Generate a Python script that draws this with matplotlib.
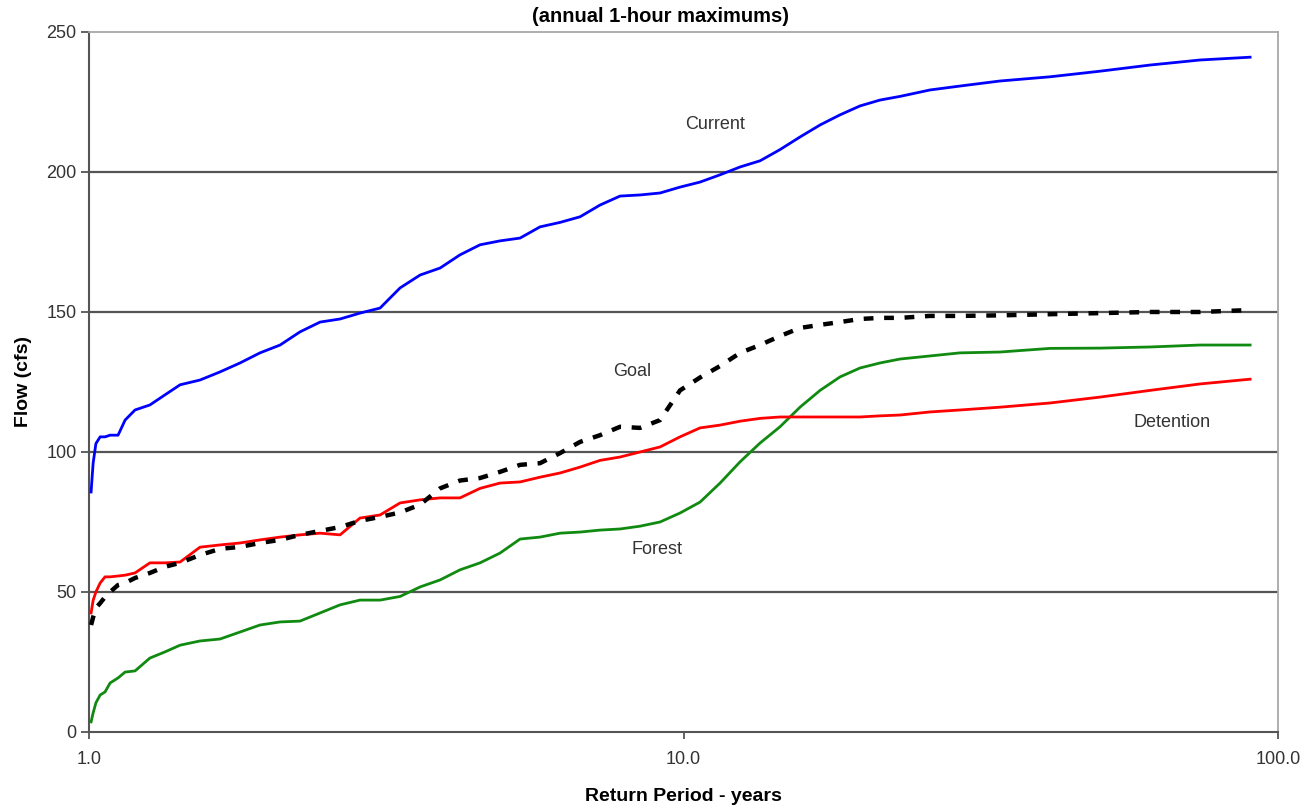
import matplotlib
matplotlib.use("Agg")
import matplotlib.pyplot as plt
from matplotlib.ticker import FixedLocator, NullLocator, FuncFormatter

plt.rcParams['font.family'] = ['Liberation Sans', 'DejaVu Sans']

# return period (years), shared by all four curves
return_period = [1.008, 1.016, 1.027, 1.044, 1.064, 1.085, 1.119, 1.150, 1.195, 1.266,
                 1.342, 1.423, 1.537, 1.661, 1.795, 1.939, 2.096, 2.264, 2.447, 2.644,
                 2.856, 3.087, 3.336, 3.605, 3.895, 4.207, 4.547, 4.913, 5.309, 5.736,
                 6.199, 6.698, 7.237, 7.820, 8.451, 9.131, 9.865, 10.66, 11.52, 12.45,
                 13.45, 14.53, 15.70, 16.97, 18.33, 19.81, 21.41, 23.13, 25.98, 29.18,
                 34.07, 41.35, 50.18, 60.91, 73.93, 89.74]

current = [85.7, 96, 103, 105.4, 105.4, 106, 106, 111.4, 115, 116.8,
           120.4, 124, 125.7, 128.6, 131.8, 135.4, 138.2, 142.9, 146.4, 147.5,
           149.6, 151.4, 158.6, 163.2, 165.7, 170.4, 174, 175.4, 176.4, 180.4,
           182, 184, 188.2, 191.4, 191.8, 192.5, 194.6, 196.4, 199, 201.8,
           204, 208, 212.5, 216.8, 220.4, 223.6, 225.7, 227, 229.3, 230.7,
           232.5, 234, 236, 238.2, 240, 241]

goal = [38.2, 41, 44.3, 46, 48.2, 50, 52.5, 53.2, 55, 56.8,
        59, 60.4, 63.2, 65.4, 66.1, 67.5, 68.6, 70.4, 71.8, 73.2,
        75.4, 76.8, 78.4, 81.2, 87, 89.8, 90.7, 92.9, 95.4, 96,
        99.6, 103.6, 106, 109, 108.6, 111.4, 122, 126.6, 130.7, 135.4,
        138.2, 141.4, 144.3, 145.4, 146.4, 147.5, 147.9, 147.9, 148.6, 148.6,
        148.8, 149.2, 149.6, 150, 150, 150.7]

detention = [42.5, 47, 50, 53.2, 55.4, 55.4, 55.7, 56, 56.8, 60.4,
             60.4, 60.7, 66, 66.8, 67.5, 68.6, 69.6, 70.4, 71, 70.4,
             76.4, 77.5, 81.8, 82.9, 83.6, 83.6, 87, 88.9, 89.3, 91,
             92.5, 94.6, 97, 98.2, 100, 101.8, 105.4, 108.6, 109.6, 111,
             112, 112.5, 112.5, 112.5, 112.5, 112.5, 112.9, 113.2, 114.3, 115,
             116, 117.5, 119.6, 122, 124.3, 126]

forest = [3.6, 6.8, 10.4, 13.2, 14.3, 17.5, 19.3, 21.4, 21.8, 26.4,
          28.6, 31, 32.5, 33.2, 35.7, 38.2, 39.3, 39.6, 42.5, 45.4,
          47.1, 47.1, 48.4, 51.8, 54.3, 57.9, 60.4, 63.9, 68.9, 69.6,
          71, 71.4, 72.1, 72.5, 73.5, 75, 78.2, 82.1, 88.9, 96.5,
          103.2, 109, 116, 122, 126.8, 130, 131.8, 133.2, 134.3, 135.4,
          135.7, 137, 137.1, 137.5, 138.2, 138.2]

y_ticks = [0, 50, 100, 150, 200, 250]
x_ticks = [1.0, 10.0, 100.0]

fig = plt.figure(figsize=(13.15, 8.08), dpi=100)
ax = fig.add_axes([0.0677, 0.0941, 0.9042, 0.8663])

for y in y_ticks[1:-1]:
    ax.axhline(y, color='#555555', lw=1.6, zorder=1)

ax.plot(return_period, current, color='#0000ff', lw=2.0, zorder=3)
ax.plot(return_period, forest, color='#118a11', lw=2.0, zorder=3)
ax.plot(return_period, detention, color='#ff0000', lw=2.0, zorder=3)
ax.plot(return_period, goal, color='black', lw=3.2, dashes=(2.2, 2.4), zorder=4)

ax.set_xscale('log')
ax.set_xlim(1.0, 100.0)
ax.set_ylim(0, 250)
ax.xaxis.set_major_locator(FixedLocator(x_ticks))
ax.xaxis.set_minor_locator(NullLocator())
ax.xaxis.set_major_formatter(FuncFormatter(lambda v, p: f"{v:.1f}"))
ax.set_yticks(y_ticks)

for side in ['top', 'right']:
    ax.spines[side].set_color('#a8a8a8')
    ax.spines[side].set_linewidth(1.3)
for side in ['left', 'bottom']:
    ax.spines[side].set_color('#555555')
    ax.spines[side].set_linewidth(1.5)

ax.tick_params(axis='y', direction='out', length=6, width=1.3, color='#555555',
               labelsize=13, labelcolor='#333333', pad=3)
ax.tick_params(axis='x', direction='out', length=5, width=1.3, color='#555555',
               labelsize=13, labelcolor='#333333', pad=9)

ax.set_xlabel('Return Period - years', fontsize=14, fontweight='bold', labelpad=14)
ax.set_ylabel('Flow (cfs)', fontsize=14, fontweight='bold', labelpad=10)
fig.text(0.502, 0.980, '(annual 1-hour maximums)', ha='center', va='center',
         fontsize=14.5, fontweight='bold')

label_style = dict(fontsize=13, color='#333333', ha='center', va='center', zorder=5)
ax.text(11.3, 216.8, 'Current', **label_style)
ax.text(8.19, 128.6, 'Goal', **label_style)
ax.text(66.3, 110.4, 'Detention', **label_style)
ax.text(9.02, 65, 'Forest', **label_style)

fig.savefig('out.png', dpi=100)
